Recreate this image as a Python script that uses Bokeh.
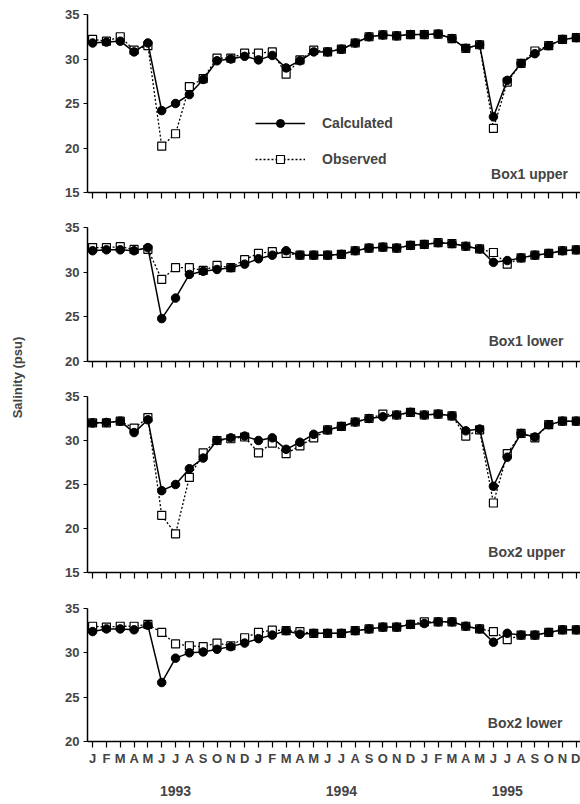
import math
from bokeh.plotting import figure
from bokeh.layouts import column, row
from bokeh.models import Range1d, FixedTicker, Label, Legend, LegendItem, LinearAxis
from bokeh.embed import file_html
from bokeh.resources import INLINE

months = ["J", "F", "M", "A", "M", "J", "J", "A", "S", "O", "N", "D"] * 3
years = ["1993", "1994", "1995"]
year_pos = [6, 18, 30]

box1_upper_calc = [31.8, 31.9, 32.0, 30.8, 31.8, 24.2, 25.0, 26.0, 27.7, 29.8, 30.0, 30.3,
                   29.9, 30.4, 29.0, 29.8, 30.8, 30.8, 31.1, 31.8, 32.5, 32.7, 32.6, 32.75,
                   32.75, 32.8, 32.3, 31.2, 31.6, 23.5, 27.6, 29.5, 30.6, 31.5, 32.2, 32.4]
box1_upper_obs = [32.2, 32.0, 32.5, 31.0, 31.5, 20.2, 21.6, 26.9, 27.8, 30.1, 30.1, 30.65,
                  30.65, 30.8, 28.3, 29.9, 31.0, 30.8, 31.1, 31.8, 32.5, 32.7, 32.6, 32.75,
                  32.75, 32.8, 32.3, 31.2, 31.6, 22.2, 27.4, 29.5, 30.9, 31.5, 32.2, 32.4]
box1_lower_calc = [32.4, 32.5, 32.5, 32.4, 32.75, 24.8, 27.1, 29.75, 30.1, 30.3, 30.5, 30.9,
                   31.5, 31.9, 32.4, 31.9, 31.9, 31.9, 32.0, 32.4, 32.7, 32.8, 32.7, 33.0,
                   33.1, 33.3, 33.2, 32.9, 32.6, 31.1, 31.3, 31.6, 31.9, 32.1, 32.4, 32.5]
box1_lower_obs = [32.75, 32.75, 32.85, 32.55, 32.55, 29.2, 30.5, 30.5, 30.2, 30.75, 30.5, 31.4,
                  32.1, 32.3, 32.1, 31.9, 31.9, 31.9, 32.0, 32.4, 32.7, 32.8, 32.7, 33.0,
                  33.1, 33.3, 33.2, 32.9, 32.6, 32.2, 30.9, 31.6, 31.9, 32.1, 32.4, 32.5]
box2_upper_calc = [32.0, 32.05, 32.2, 30.9, 32.35, 24.3, 25.0, 26.8, 28.0, 30.0, 30.3, 30.5,
                   30.0, 30.3, 29.0, 29.8, 30.7, 31.2, 31.6, 32.1, 32.5, 32.7, 32.9, 33.2,
                   32.9, 33.0, 32.8, 31.1, 31.3, 24.8, 28.1, 30.8, 30.4, 31.8, 32.2, 32.2]
box2_upper_obs = [32.0, 32.0, 32.2, 31.4, 32.6, 21.5, 19.4, 25.8, 28.6, 30.0, 30.2, 30.4,
                  28.6, 29.7, 28.5, 29.4, 30.3, 31.2, 31.6, 32.1, 32.5, 33.0, 32.9, 33.2,
                  32.9, 33.0, 32.8, 30.5, 31.2, 22.9, 28.5, 30.8, 30.3, 31.8, 32.2, 32.2]
box2_lower_calc = [32.4, 32.7, 32.7, 32.6, 33.1, 26.65, 29.4, 30.0, 30.1, 30.4, 30.7, 31.1,
                   31.6, 32.0, 32.5, 32.1, 32.2, 32.2, 32.2, 32.5, 32.7, 32.9, 32.9, 33.2,
                   33.3, 33.5, 33.5, 33.0, 32.7, 31.2, 32.2, 32.0, 32.0, 32.3, 32.6, 32.6]
box2_lower_obs = [33.0, 32.9, 33.0, 33.0, 33.2, 32.3, 31.0, 30.8, 30.7, 31.1, 30.8, 31.7,
                  32.3, 32.55, 32.5, 32.4, 32.2, 32.2, 32.2, 32.5, 32.7, 32.9, 32.9, 33.2,
                  33.5, 33.5, 33.5, 33.0, 32.7, 32.4, 31.5, 32.0, 32.0, 32.3, 32.6, 32.6]

x = list(range(len(months)))
FONT = "Liberation Sans"


def make_panel(calc, obs, name, ymin, top, frame_h, bottom, name_x, name_y,
               last=False, legend=False):
    p = figure(frame_width=493, frame_height=frame_h,
               x_range=Range1d(-0.37, 35.3), y_range=Range1d(ymin, 35),
               output_backend="svg", toolbar_location=None,
               min_border_left=57, min_border_right=0,
               min_border_top=top, min_border_bottom=bottom)
    p.outline_line_color = None
    p.grid.visible = False
    p.background_fill_color = "white"

    ol = p.line(x, obs, line_color="black", line_width=1.3, line_dash="2 2")
    os_ = p.scatter(x, obs, marker="square", size=8, fill_color="white",
                    line_color="black", line_width=1.2)
    cl = p.line(x, calc, line_color="black", line_width=1.5)
    cc = p.scatter(x, calc, marker="circle", size=8.5, fill_color="black",
                   line_color="black")

    xa = p.xaxis[0]
    xa.ticker = FixedTicker(ticks=x)
    xa.minor_tick_line_color = None
    xa.major_tick_in = 0
    xa.major_tick_out = 6
    xa.axis_line_width = 1.5
    xa.major_tick_line_width = 1.2
    if last:
        xa.major_label_overrides = {i: m for i, m in enumerate(months)}
        xa.major_label_text_font = FONT
        xa.major_label_text_font_style = "bold"
        xa.major_label_text_font_size = "13px"
        xa.major_label_standoff = 3
        ya = LinearAxis(ticker=FixedTicker(ticks=year_pos),
                        major_label_overrides={v: t for v, t in zip(year_pos, years)},
                        axis_line_color=None, major_tick_line_color=None,
                        minor_tick_line_color=None,
                        major_label_text_font=FONT, major_label_text_font_style="bold",
                        major_label_text_font_size="14px", major_label_standoff=11)
        p.add_layout(ya, "below")
    else:
        xa.major_label_text_font_size = "6px"
        xa.major_label_text_color = None
        xa.major_label_standoff = 0

    yax = p.yaxis[0]
    yax.ticker = FixedTicker(ticks=list(range(int(ymin), 36, 5)))
    yax.minor_tick_line_color = None
    yax.major_tick_in = 0
    yax.major_tick_out = 4
    yax.axis_line_width = 1.5
    yax.major_label_text_font = FONT
    yax.major_label_text_font_style = "bold"
    yax.major_label_text_font_size = "13px"
    yax.major_label_standoff = 4

    p.add_layout(Label(x=name_x, y=name_y, text=name, text_align="right",
                       text_baseline="middle", text_font=FONT, text_font_style="bold",
                       text_font_size="14px"))

    if legend:
        lg = Legend(items=[LegendItem(label="Calculated", renderers=[cl, cc]),
                           LegendItem(label="Observed", renderers=[ol, os_])],
                    location=(168, 23))
        lg.glyph_width = 50
        lg.glyph_height = 20
        lg.label_standoff = 17
        lg.spacing = 16
        lg.padding = 0
        lg.margin = 0
        lg.border_line_color = None
        lg.background_fill_alpha = 0
        lg.label_text_font = FONT
        lg.label_text_font_style = "bold"
        lg.label_text_font_size = "14px"
        p.add_layout(lg)
    return p


p1 = make_panel(box1_upper_calc, box1_upper_obs, "Box1 upper", 15, 14, 178, 18, 34.4, 17.1, legend=True)
p2 = make_panel(box1_lower_calc, box1_lower_obs, "Box1 lower", 20, 17, 134, 18, 34.06, 22.3)
p3 = make_panel(box2_upper_calc, box2_upper_obs, "Box2 upper", 15, 17, 176, 18, 34.2, 17.3)
p4 = make_panel(box2_lower_calc, box2_lower_obs, "Box2 lower", 20, 18, 133, 62, 34.0, 22.1, last=True)

tfig = figure(width=30, height=804, x_axis_type=None, y_axis_type=None,
              x_range=Range1d(0, 1), y_range=Range1d(0, 1), min_border=0,
              output_backend="svg", toolbar_location=None)
tfig.outline_line_color = None
tfig.grid.visible = False
tfig.add_layout(Label(x=17, y=804 - 377, x_units="screen", y_units="screen",
                      text="Salinity (psu)", angle=math.pi / 2, text_align="center",
                      text_baseline="middle", text_font=FONT, text_font_style="bold",
                      text_font_size="13px"))

layout = row(tfig, column(p1, p2, p3, p4, spacing=0), spacing=0)
open("out.html", "w").write(file_html(layout, INLINE))
